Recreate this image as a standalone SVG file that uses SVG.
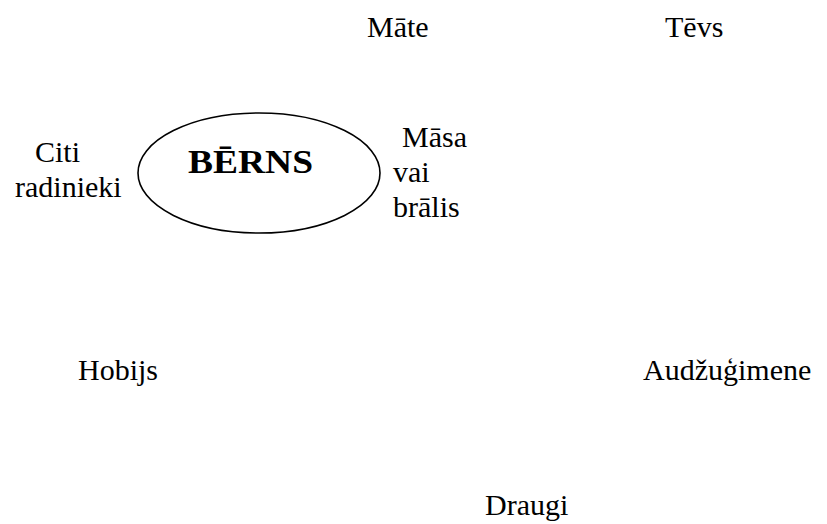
<svg xmlns="http://www.w3.org/2000/svg" width="827" height="524" viewBox="0 0 827 524">
<style>
text{font-family:'Liberation Serif','DejaVu Serif',serif;fill:#000}
.t{font-size:30px}
.b{font-size:34px;font-weight:bold}
.e{fill:#fff;stroke:#000;stroke-width:1.6}
</style>
<rect width="827" height="524" fill="#fff"/>
<g id="connectors"></g>
<g id="berns"><ellipse class="e" cx="259" cy="173" rx="121" ry="60"/><text class="b" x="188" y="173" textLength="125" lengthAdjust="spacingAndGlyphs">BĒRNS</text></g>
<g id="mate"><text class="t" x="367" y="37">Māte</text></g>
<g id="tevs"><text class="t" x="665" y="37">Tēvs</text></g>
<g id="citi"><text class="t" x="35" y="162">Citi</text><text class="t" x="15" y="197">radinieki</text></g>
<g id="masa"><text class="t" x="402" y="147">Māsa</text><text class="t" x="393" y="182">vai</text><text class="t" x="393" y="217">brālis</text></g>
<g id="hobijs"><text class="t" x="78" y="380">Hobijs</text></g>
<g id="audzugimene"><text class="t" x="643" y="380">Audžuģimene</text></g>
<g id="draugi"><text class="t" x="485" y="515">Draugi</text></g>
</svg>
